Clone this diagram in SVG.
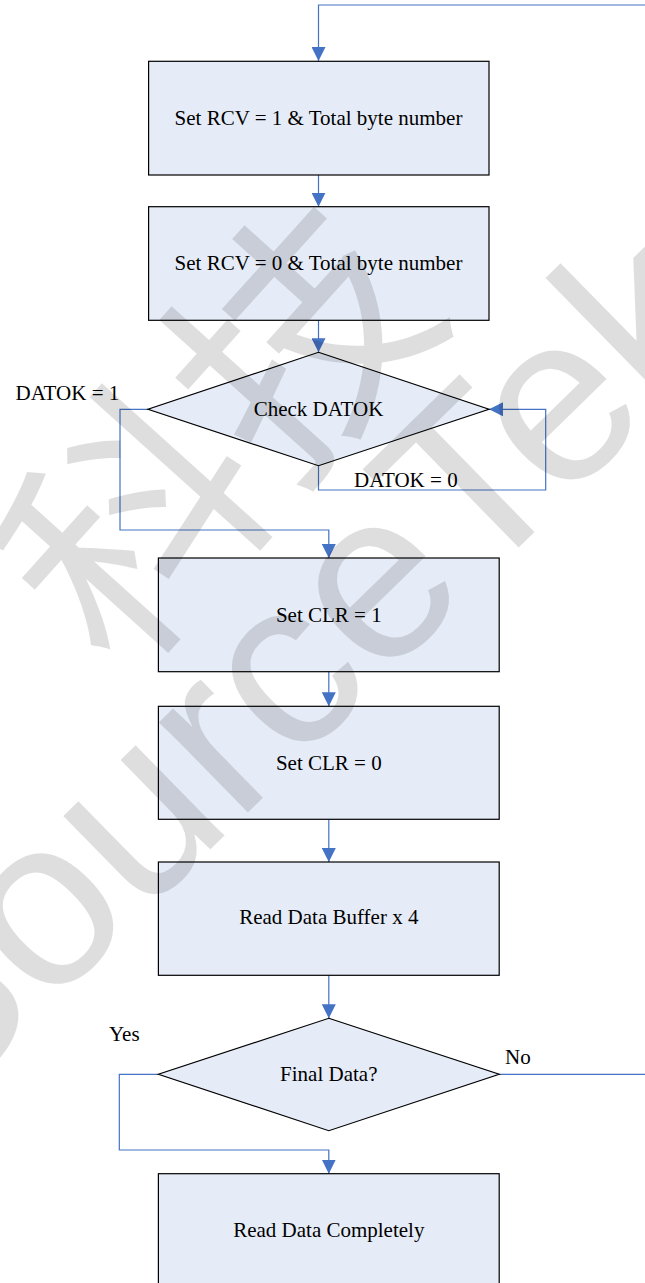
<svg xmlns="http://www.w3.org/2000/svg" width="645" height="1283" viewBox="0 0 645 1283">
<style>
.box{fill:#e6ecf7;stroke:#000;stroke-width:1.2}
.lbl{font-family:"Liberation Serif","Times New Roman",serif;font-size:21px;fill:#000}
.mid{text-anchor:middle}
.con{fill:none;stroke:#4472c4;stroke-width:1.2}
.arr{marker-end:url(#ah)}
.wm{font-family:"Liberation Sans",Arial,sans-serif;fill:#000;fill-opacity:0.13}
.wmc{font-family:"Noto Sans CJK SC",sans-serif;fill:#000;fill-opacity:0.13}
</style>
<defs>
<marker id="ah" markerUnits="userSpaceOnUse" markerWidth="14" markerHeight="14" refX="14" refY="7" orient="auto">
<path d="M0,0 L14,7 L0,14 z" fill="#4472c4"/>
</marker>
</defs>
<rect width="645" height="1283" fill="#fff"/>
<g id="connectors">
<path class="con arr" d="M645,5 H318.5 V61"/>
<path class="con arr" d="M318.5,175 V206.7"/>
<path class="con arr" d="M318.5,320.3 V352.3"/>
<path class="con arr" d="M148,409.3 H120 V530 H328.8 V558"/>
<path class="con arr" d="M318.5,465.7 V490 H545.7 V409.3 H489"/>
<path class="con arr" d="M328.8,671.7 V706.3"/>
<path class="con arr" d="M328.8,819.3 V862"/>
<path class="con arr" d="M328.8,975.3 V1018.3"/>
<path class="con" d="M499.2,1074.3 H645"/>
<path class="con arr" d="M158.4,1074.3 H119.3 V1150 H328.8 V1173.7"/>
</g>
<g id="n1"><rect class="box" x="148.6" y="61.3" width="340.4" height="113.7"/><text class="lbl mid" x="318.5" y="125">Set RCV = 1 &amp; Total byte number</text></g>
<g id="n2"><rect class="box" x="148.6" y="206.7" width="340.4" height="113.6"/><text class="lbl mid" x="318.5" y="270">Set RCV = 0 &amp; Total byte number</text></g>
<g id="n3"><polygon class="box" points="318.5,352.3 489,409.3 318.5,465.7 148,409.3"/><text class="lbl mid" x="318.5" y="416">Check DATOK</text></g>
<g id="n4"><rect class="box" x="158.4" y="558" width="340.8" height="113.7"/><text class="lbl mid" x="328.8" y="621.7">Set CLR = 1</text></g>
<g id="n5"><rect class="box" x="158.4" y="706.3" width="340.8" height="113"/><text class="lbl mid" x="328.8" y="770">Set CLR = 0</text></g>
<g id="n6"><rect class="box" x="158.4" y="862" width="340.8" height="113.3"/><text class="lbl mid" x="328.8" y="924.3">Read Data Buffer x 4</text></g>
<g id="n7"><polygon class="box" points="328.8,1018.3 499.2,1074.3 328.8,1130.7 158.4,1074.3"/><text class="lbl mid" x="328.8" y="1080.7">Final Data?</text></g>
<g id="n8"><rect class="box" x="158.4" y="1173.7" width="340.8" height="113.6"/><text class="lbl mid" x="328.8" y="1236.7">Read Data Completely</text></g>
<g id="edge-labels">
<text class="lbl" x="15.6" y="400">DATOK = 1</text>
<text class="lbl" x="354" y="486.7">DATOK = 0</text>
<text class="lbl" x="109" y="1040.7">Yes</text>
<text class="lbl" x="505" y="1064">No</text>
</g>
<g id="watermark">
<text class="wmc" font-size="250" text-anchor="middle" transform="translate(215,430) rotate(-48)" y="95">科技</text>
<text class="wm" font-size="240" transform="translate(-69,1123) rotate(-44.4)">SourceTek</text>
</g>
</svg>
